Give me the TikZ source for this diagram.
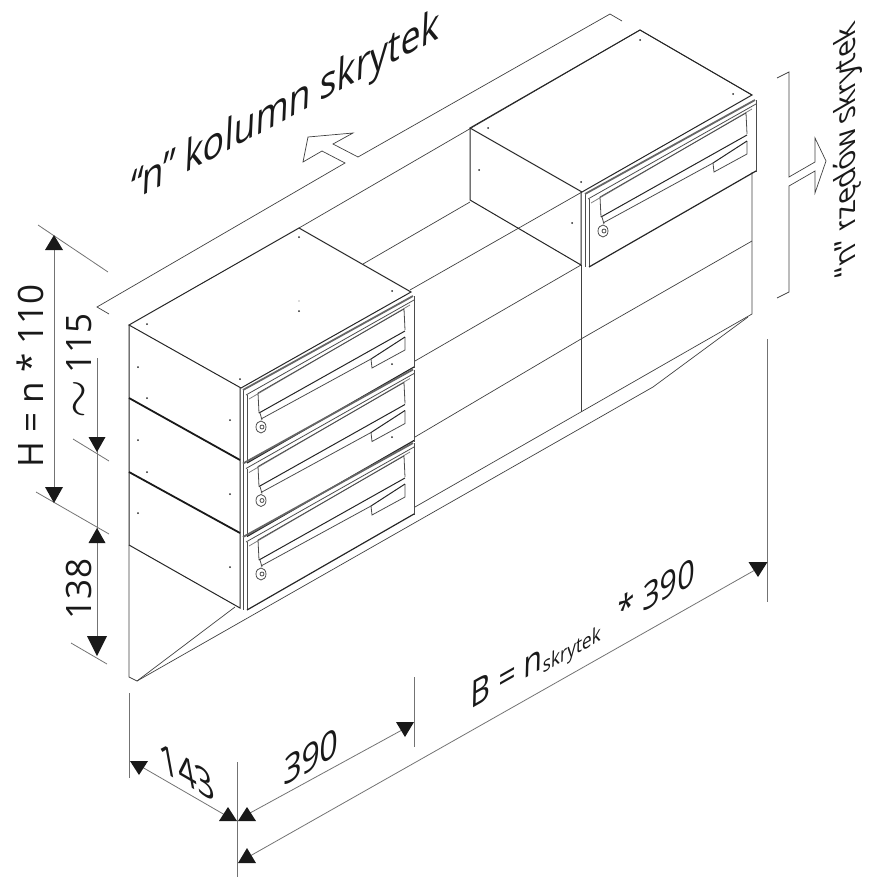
\documentclass[tikz,border=0pt]{standalone}
\usepackage{fontspec}
\setmainfont{Open Sans}
\usepackage{tikz}
\tikzset{
	thinline/.style={line width=0.7pt, black!75},
	dimline/.style={line width=0.8pt, black!55},
	boxline/.style={line width=1pt, black!85},
	heavyline/.style={line width=1.8pt, black!90},
	doorline/.style={line width=0.8pt, black!70},
	tip/.style={fill=black!90, draw=none},
	dimtext/.style={inner sep=0pt, font=\fontsize{35}{35}\selectfont, black!90},
	isotext/.style={inner sep=0pt, font=\fontsize{37}{37}\selectfont, black!90},
	riseleft/.style={isotext, rotate=29.5, xslant=0.6, yscale=0.92},
	fallright/.style={isotext, rotate=-30, xslant=-0.85, yscale=0.88},
	mailboxdoor/.pic={
		\draw[doorline] (0,0) -- (0,73);
		\draw[doorline] (4,5) -- (4,73);
		\draw[doorline] (171,-94) -- (171,-22);
		\draw[line width=1.8pt, black!60] (0,0) -- (170,-94);
		\draw[doorline] (3,5) -- (171,-90);
		\draw[doorline, black!50] (6,9) -- (167,-85);
		\draw[doorline] (16,23) -- (15,3) -- (161,-81) -- (162,-60);
		\draw[line width=1pt, black!85] (16,23) -- (162,-59);
		\draw[doorline] (18,29) -- (128,-31);
		\draw[doorline] (162,-53) -- (162,-40) -- (129,-22) -- (128,-31);
		\draw[line width=1pt, black!85] (128,-31) -- (162,-53);
		\draw[doorline] (17,23) -- (19,30);
		\draw[doorline, fill=white] (18,37) ellipse (5 and 6);
		\draw[doorline] (19,37) circle (2);
		\draw[line width=1.2pt, black!85] (4,73) -- (171,-23);
	}
}
\newcommand{\downtip}[4]{\fill[tip] (#1-#3,#2-#4) -- (#1+#3,#2-#4) -- (#1,#2) -- cycle;}
\newcommand{\uptip}[4]{\fill[tip] (#1-#3,#2+#4) -- (#1+#3,#2+#4) -- (#1,#2) -- cycle;}

\begin{document}
\begin{tikzpicture}[x=1pt, y=-1pt]
	\useasboundingbox (0,0) rectangle (878,881);
	% wall
	\draw[thinline] (299,228) -- (640,30) -- (752,95);
	\draw[thinline] (363,264) -- (470,202);
	\draw[thinline] (410,290) -- (582,192);
	\draw[thinline] (415,361) -- (581,265);
	\draw[thinline] (415,437) -- (581,339) -- (752,241);
	\draw[thinline] (415,507) -- (752,314) -- (752,172);
	\draw[thinline] (581,265) -- (581,412);
	\draw[thinline] (129,545) -- (129,677) -- (137,681) -- (653,387) -- (748,317);
	\draw[thinline] (137,681) -- (235,607);
	% boxes
	\draw[boxline] (129,325) -- (299,228) -- (411,292) -- (241,388) -- cycle;
	\draw[boxline] (129,325) -- (129,545) -- (240,608) -- (240,388);
	\draw[heavyline] (129,398) -- (240,460);
	\draw[heavyline] (129,472) -- (240,533);
	\draw[boxline] (470,128) -- (640,30) -- (752,95) -- (582,192) -- cycle;
	\draw[boxline] (470,128) -- (470,200) -- (581,265) -- (581,192);
	\foreach \ny in {0,73.5,147} {
		\pic at (243,390+\ny) {mailboxdoor};
	}
	\pic at (585,194) {mailboxdoor};
	% screws
	\foreach \sx/\sy in {147/324,299/237,392/291,299/311,240/379,392/364,392/437,138/367,147/398,230/420,138/440,147/472,230/494,138/513,230/567,640/40,733/94,488/128,581/182,479/170,572/223} {
		\fill[black!85] (\sx,\sy) circle (1);
	}
	\fill[black!60] (299,301) circle (0.7);
	% dimension lines on the left
	\draw[dimline] (38,225) -- (108,272);
	\draw[dimline] (36,492) -- (109,534);
	\draw[dimline] (73,439) -- (109,461);
	\draw[dimline] (71,643) -- (107,664);
	\draw[dimline] (54,240) -- (54,500);
	\draw[dimline] (97,358) -- (97,650);
	\uptip{54}{235}{9}{15}
	\downtip{54}{503}{9}{16}
	\downtip{97}{452}{8.5}{15}
	\uptip{97}{528}{8.5}{15}
	\downtip{97}{656}{10}{20}
	% dimension lines at the bottom
	\draw[dimline] (129,693) -- (129,778);
	\draw[dimline] (237,762) -- (237,877);
	\draw[dimline] (414,677) -- (414,747);
	\draw[dimline] (767,339) -- (767,602);
	\draw[dimline] (142,767) -- (225,815);
	\draw[dimline] (250,813) -- (402,730);
	\draw[dimline] (250,856) -- (755,570);
	\downtip{139}{775}{9}{14}
	\uptip{228}{807}{9}{14}
	\uptip{247}{807}{9}{14}
	\downtip{405}{737}{9}{15}
	\uptip{247}{848}{9}{15}
	\downtip{758}{577}{9.5}{15}
	% outlined arrows
	\draw[thinline] (109,314) -- (97,307) -- (345,163) -- (322,151) -- (303,162) -- (308,137) -- (353,133) -- (333,144) -- (358,157) -- (610,14) -- (622,21);
	\draw[thinline] (777,78) -- (789,72) -- (789,177) -- (815,162) -- (815,138) -- (826,161) -- (815,193) -- (815,171) -- (789,186) -- (789,292) -- (777,298);
	% labels
	\node[dimtext, rotate=90] (heightlabel) at (30,376) {H = n * 110};
	\node[dimtext, rotate=90] (pitchlabel) at (79,366) {\scalebox{2}{$\sim$}\,115};
	\node[dimtext, rotate=90] (basementlabel) at (79,589) {138};
	\node[fallright] (depthlabel) at (187,772) {143};
	\node[riseleft] (widthlabel) at (311,757) {390};
	\node[riseleft, font=\fontsize{35}{35}\selectfont] (totallabel) at (583,637) {B = n{\fontsize{20}{20}\selectfont\raisebox{-4pt}{skrytek}}\hspace{10pt} * 390};
	\node[riseleft, font=\fontsize{41}{41}\selectfont, rotate=-1.5] (columnslabel) at (285,109) {“n” kolumn skrytek};
	\node[inner sep=0pt, rotate=90, xslant=-0.58, font=\fontsize{29}{29}\selectfont, black!90] (rowslabel) at (848,149) {“n” rzędów skrytek};
\end{tikzpicture}
\end{document}
